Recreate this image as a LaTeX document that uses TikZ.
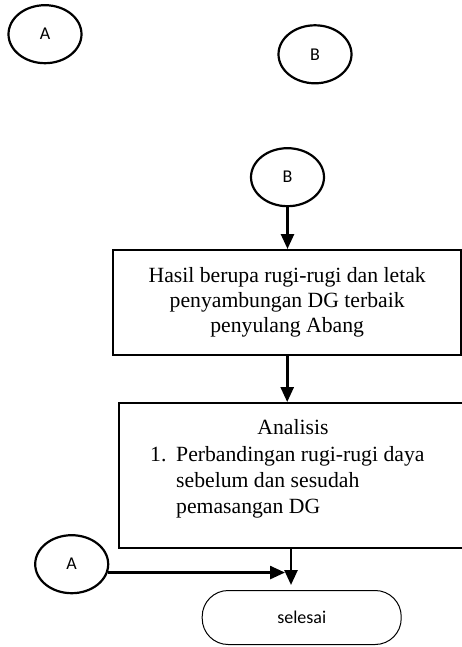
\documentclass[tikz,border=0pt]{standalone}
\usepackage{fontspec}
\setmainfont{Liberation Serif}
\newfontfamily\calfont{Carlito}
\usetikzlibrary{arrows.meta,shapes.geometric}
\begin{document}
\begin{tikzpicture}[x=1pt,y=-1pt,
  conn/.style={ellipse, draw, line width=2.2pt, minimum width=73pt, minimum height=58pt, inner sep=0pt, font=\calfont\fontsize{18}{20}\selectfont},
  procbox/.style={rectangle, draw, line width=2pt, inner sep=0pt, font=\fontsize{21.7}{25.3}\selectfont, align=center},
  txt/.style={inner sep=0pt, font=\fontsize{21.7}{25.3}\selectfont},
  arr/.style={-{Triangle[length=15pt,width=13pt]}, line width=2.6pt},
  term/.style={rectangle, rounded corners=26pt, draw, line width=1pt, minimum width=199pt, minimum height=54pt, font=\calfont\fontsize{18}{20}\selectfont}]
\useasboundingbox (0,0) rectangle (462,647);
\node[conn] (A1) at (45,34.2) {A};
\node[conn] (B1) at (315,54.3) {B};
\node[conn] (B2) at (287.5,177.2) {B};
\node[conn] (A2) at (71.7,564.2) {A};
\node[procbox, minimum width=348pt, minimum height=105pt] (box1) at (287.2,302.5) {Hasil berupa rugi-rugi dan letak\\penyambungan DG terbaik\\penyulang Abang};
\node[procbox, minimum width=344pt, minimum height=144.5pt] (box2) at (291,475.3) {};
\node[txt, anchor=base] (ana) at (293,434) {Analisis};
\node[txt, anchor=base west] (num) at (150,461) {1.};
\node[txt, anchor=base west] (l1) at (176,461) {Perbandingan rugi-rugi daya};
\node[txt, anchor=base west] (l2) at (176,487) {sebelum dan sesudah};
\node[txt, anchor=base west] (l3) at (176,513) {pemasangan DG};
\node[term] (end) at (301.7,617.5) {selesai};
\coordinate (tip) at (291,585);
\coordinate (hit) at (285,570.7);
\draw[arr] (B2.south) -- (B2.south |- box1.north);
\draw[arr] (box1.south) -- (box1.south |- box2.north);
\draw[arr] (box2.south) -- (tip);
\draw[arr] (A2.-13) -- (A2.-13 -| hit);
\end{tikzpicture}
\end{document}
